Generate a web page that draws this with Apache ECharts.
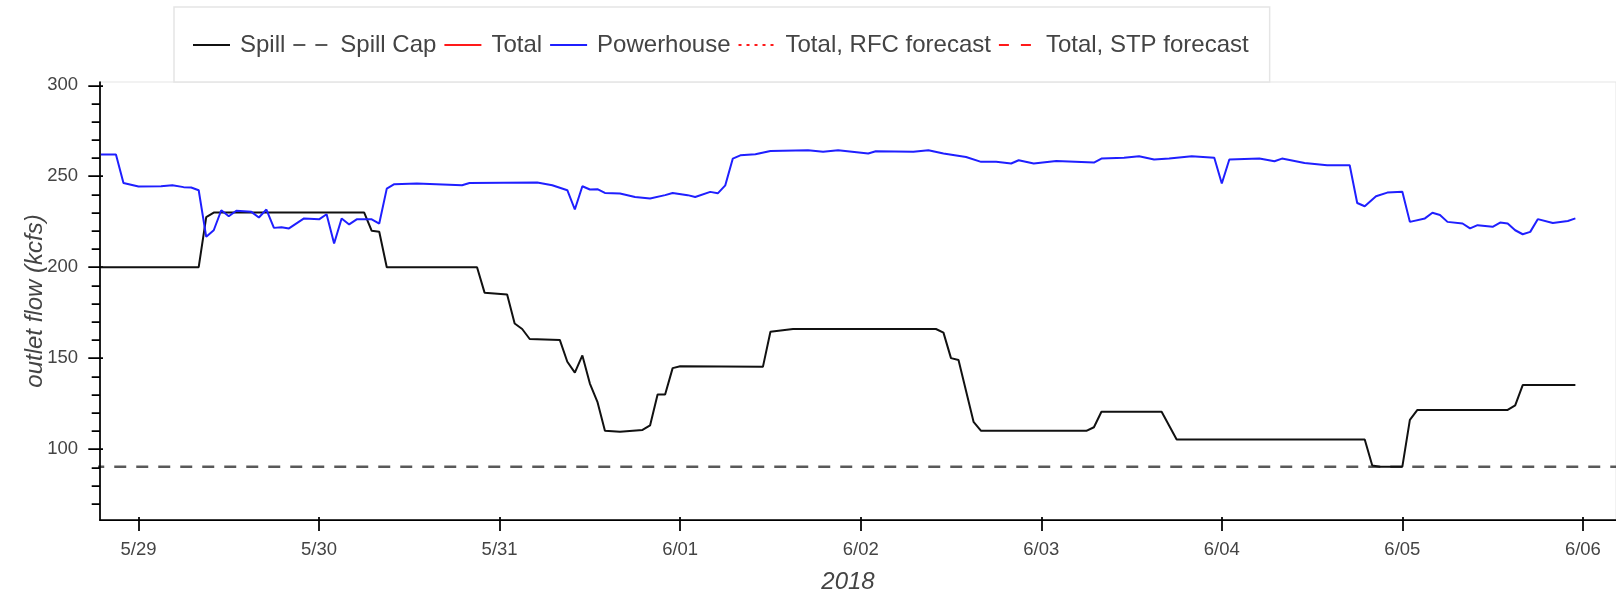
<!DOCTYPE html>
<html>
<head>
<meta charset="utf-8">
<script src="https://cdn.jsdelivr.net/npm/echarts@6/dist/echarts.min.js"></script>
<style>
  html, body { margin: 0; padding: 0; background: #fff; }
  #chart { width: 1616px; height: 600px; }
</style>
</head>
<body>
<div id="chart"></div>
<script>
// x values are hours counted from 2018-05-29 00:00
const dayTicks = [0, 24, 48, 72, 96, 120, 144, 168, 192];
const dayLabels = ["5/29", "5/30", "5/31", "6/01", "6/02", "6/03", "6/04", "6/05", "6/06"];
const flowTicks = [100, 150, 200, 250, 300];
const flowMinorTicks = [70, 80, 90, 110, 120, 130, 140, 160, 170, 180, 190,
  210, 220, 230, 240, 260, 270, 280, 290];

const spillHours = [-5, 8, 9, 10, 30, 31, 32, 33, 45, 46, 49, 50, 51, 52, 56, 57, 58, 59, 60, 61,
  62, 64, 67, 68, 69, 70, 71, 72, 83, 84, 87, 106, 107, 108, 109, 111, 112, 126, 127, 128,
  136, 138, 163, 164, 165, 168, 169, 170, 182, 183, 184, 191];
const spillFlow = [200, 200, 227.5, 230, 230, 220, 219.5, 200, 200, 186, 185, 169, 166, 160.5, 160, 148, 142, 151.5, 136, 126,
  110, 109.5, 110.5, 113, 130, 130, 144.5, 145.5, 145.2, 164.5, 166, 166, 164, 150, 149, 115, 110, 110, 112, 120.5,
  120.5, 105.3, 105.3, 91, 90.3, 90.3, 116, 121.5, 121.5, 124, 135.2, 135.2];

const powerhouseHours = [-5, -3, -2, 0, 3, 4.5, 6, 7, 8, 9, 10, 11, 12, 13, 15, 16, 17, 18, 19, 20,
  22, 24, 25, 26, 27, 28, 29, 31, 32, 33, 34, 37, 43, 44, 53, 55, 57, 58, 59, 60,
  61, 62, 64, 66, 68, 70, 71, 73, 74, 76, 77, 78, 79, 80, 82, 84, 89, 91, 93, 97,
  98, 103, 105, 107, 110, 112, 114, 116, 117, 119, 122, 127, 128, 131, 133, 135, 137, 140, 143, 144,
  145, 149, 151, 152, 155, 158, 161, 162, 163, 164.5, 166, 168, 169, 171, 172, 173, 174, 176, 177, 178,
  180, 181, 182, 183, 184, 185, 186, 188, 190, 191];
const powerhouseFlow = [262, 262, 246.3, 244.3, 244.5, 245, 244, 243.8, 242.3, 216.7, 220.3, 231.3, 228, 231, 230.4, 227.3, 231.7, 221.6, 222, 221.3,
  226.8, 226.3, 229.1, 213, 226.8, 223.5, 226.3, 226.3, 224, 243.2, 245.6, 246, 245, 246.3, 246.5, 245, 242.3, 231.7, 244.5, 242.7,
  242.9, 240.8, 240.5, 238.6, 237.7, 239.6, 240.8, 239.6, 238.6, 241.4, 240.6, 245, 259.7, 261.5, 262.1, 263.9, 264.3, 263.5, 264.3, 262.5,
  263.7, 263.5, 264.3, 262.5, 260.6, 257.9, 257.9, 257, 258.8, 257, 258.4, 257.5, 259.7, 260.2, 261, 259.2, 259.7, 261, 260.2, 246,
  259.2, 259.7, 258.2, 259.7, 257.3, 256, 256, 235.3, 233.5, 239, 241, 241.4, 224.9, 226.8, 229.9, 228.7, 224.9, 224, 221.3, 223.1,
  222.2, 224.5, 224, 220.3, 218.1, 219.4, 226.4, 224.3, 225.4, 226.8];

const spillCapHours = [-12, 204];
const spillCapFlow = [90.3, 90.3];

// not visible inside the plotted range
const totalFlow = [];
const totalRfcForecast = [];
const totalStpForecast = [];

function pairs(xs, ys) {
  return xs.map((x, i) => [x, ys[i]]);
}

const FONT = "Liberation Sans";
const xMin = -5.12, xMax = 196.4;
const yMin = 61, yMax = 301.8;

const chart = echarts.init(document.getElementById("chart"));

chart.setOption({
  animation: false,
  backgroundColor: "#fff",
  grid: {
    left: 100, right: 0, top: 82, bottom: 80,
    show: true, borderColor: "#e5e5e5", borderWidth: 1,
    containLabel: false, outerBoundsMode: "none"
  },
  legend: {
    left: 174, top: 7,
    padding: [26, 21, 25, 18],
    itemWidth: 37, itemHeight: 24, itemGap: 7,
    backgroundColor: "#fff",
    borderColor: "#e5e5e5", borderWidth: 1.5,
    itemStyle: { opacity: 0 },
    textStyle: { fontFamily: FONT, fontSize: 24, color: "#444", padding: [0, 0, 0, 5] },
    data: ["Spill", "Spill Cap", "Total", "Powerhouse", "Total, RFC forecast", "Total, STP forecast"]
  },
  xAxis: [
    {
      type: "value", min: xMin, max: xMax, position: "bottom",
      axisLine: { show: true, onZero: false, lineStyle: { color: "#000", width: 1.75 } },
      axisTick: { show: true, customValues: dayTicks, length: 11, lineStyle: { color: "#000", width: 1.75 } },
      axisLabel: {
        customValues: dayTicks, margin: 20,
        formatter: v => dayLabels[dayTicks.indexOf(v)],
        fontFamily: FONT, fontSize: 18.5, color: "#444"
      },
      splitLine: { show: false },
      name: "2018", nameLocation: "middle", nameGap: 50, nameMoveOverlap: false,
      nameTextStyle: { fontFamily: FONT, fontSize: 24, fontStyle: "italic", color: "#444", padding: [0, 20, 0, 0] }
    },
    {
      type: "value", min: xMin, max: xMax, position: "bottom",
      axisLine: { show: false, onZero: false },
      axisTick: { show: true, inside: true, customValues: dayTicks, length: 3, lineStyle: { color: "#000", width: 1.75 } },
      axisLabel: { show: false },
      splitLine: { show: false }
    }
  ],
  yAxis: [
    {
      type: "value", min: yMin, max: yMax, position: "left",
      axisLine: { show: true, onZero: false, lineStyle: { color: "#000", width: 1.75 } },
      axisTick: { show: true, customValues: flowTicks, length: 11.7, lineStyle: { color: "#000", width: 1.75 } },
      axisLabel: { customValues: flowTicks, margin: 22, fontFamily: FONT, fontSize: 18.5, color: "#444" },
      splitLine: { show: false },
      name: "outlet flow (kcfs)", nameLocation: "middle", nameRotate: 90, nameGap: 53, nameMoveOverlap: false,
      nameTextStyle: { fontFamily: FONT, fontSize: 24, fontStyle: "italic", color: "#444" }
    },
    {
      type: "value", min: yMin, max: yMax, position: "left",
      axisLine: { show: false, onZero: false },
      axisTick: { show: true, customValues: flowMinorTicks, length: 8.3, lineStyle: { color: "#000", width: 1.75 } },
      axisLabel: { show: false },
      splitLine: { show: false }
    },
    {
      type: "value", min: yMin, max: yMax, position: "left",
      axisLine: { show: false, onZero: false },
      axisTick: { show: true, inside: true, customValues: flowTicks, length: 3, lineStyle: { color: "#000", width: 1.75 } },
      axisLabel: { show: false },
      splitLine: { show: false }
    }
  ],
  series: [
    {
      name: "Spill Cap", type: "line", data: pairs(spillCapHours, spillCapFlow),
      symbol: "none", color: "rgba(0,0,0,0.65)",
      lineStyle: { color: "rgba(0,0,0,0.65)", width: 2.5, type: [12, 10] }
    },
    {
      name: "Spill", type: "line", data: pairs(spillHours, spillFlow),
      symbol: "none", color: "#111",
      lineStyle: { color: "#111", width: 2 }
    },
    {
      name: "Total", type: "line", data: totalFlow,
      symbol: "none", color: "#ff1a1a",
      lineStyle: { color: "#ff1a1a", width: 2 }
    },
    {
      name: "Powerhouse", type: "line", data: pairs(powerhouseHours, powerhouseFlow),
      symbol: "none", color: "#1f1fff",
      lineStyle: { color: "#1f1fff", width: 2 }
    },
    {
      name: "Total, RFC forecast", type: "line", data: totalRfcForecast,
      symbol: "none", color: "#ff1a1a",
      lineStyle: { color: "#ff1a1a", width: 2, type: [3, 5] }
    },
    {
      name: "Total, STP forecast", type: "line", data: totalStpForecast,
      symbol: "none", color: "#ff1a1a",
      lineStyle: { color: "#ff1a1a", width: 2, type: [10, 12] }
    }
  ]
});
</script>
</body>
</html>
